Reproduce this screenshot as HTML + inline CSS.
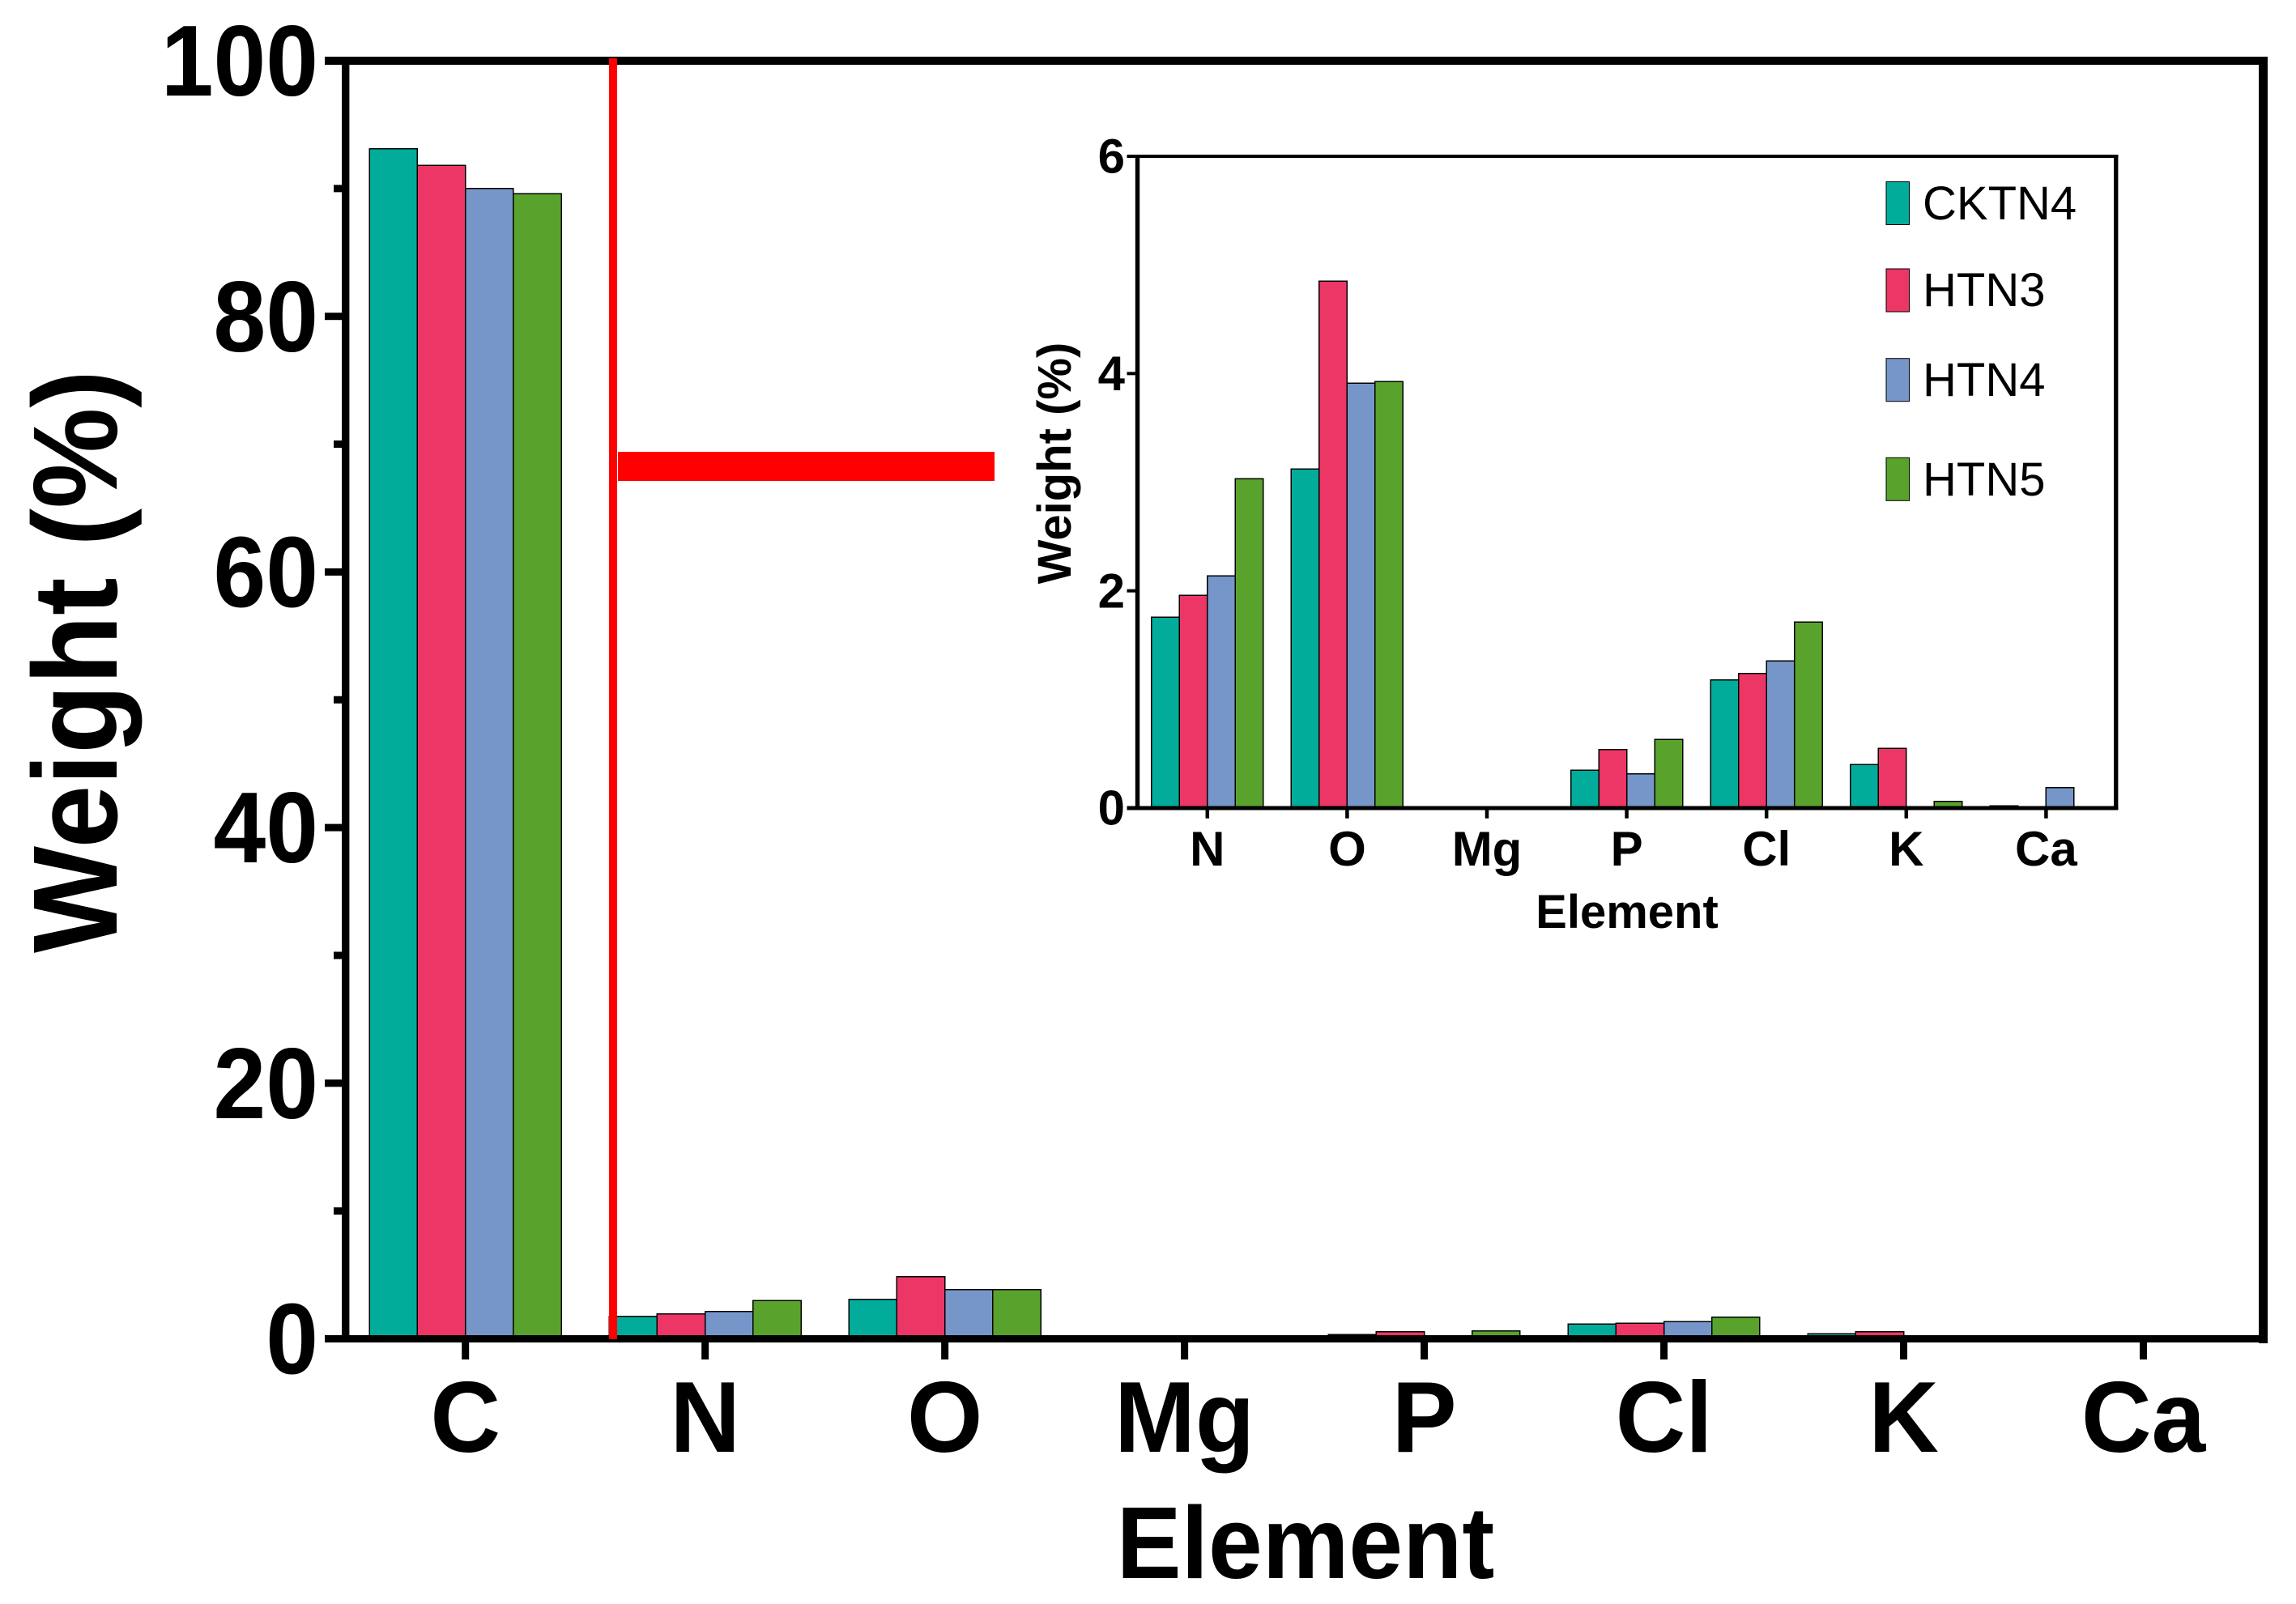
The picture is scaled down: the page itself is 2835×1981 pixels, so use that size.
<!DOCTYPE html>
<html lang="en">
<head>
<meta charset="utf-8">
<title>Element weight percent bar chart</title>
<style>
html,body{margin:0;padding:0;background:#fff;}
svg{display:block;}
text{font-family:"Liberation Sans",Arial,sans-serif;fill:#000;}
.bold{font-weight:700;}
</style>
</head>
<body>
<svg id="chart" xmlns="http://www.w3.org/2000/svg" width="2835" height="1981" viewBox="0 0 2835 1981">
  <rect x="0" y="0" width="2835" height="1981" fill="#ffffff"/>
  <g id="main-plot"></g>
  <rect x="752" y="72" width="10" height="1582" fill="#ff0000"/>
  <rect x="763" y="558" width="465" height="36" fill="#ff0000"/>
  <g id="inset-plot"></g>

  <text class="bold" font-size="138.5" text-anchor="middle" transform="translate(144,817) rotate(-90) scale(1.01,1.07)">Weight (%)</text>
  <text class="bold" font-size="120" text-anchor="middle" transform="translate(1612,1949) scale(1,1.05)">Element</text>
  <text class="bold" font-size="58" text-anchor="middle" transform="translate(1322,572) rotate(-90)">Weight (%)</text>
  <text class="bold" font-size="58" text-anchor="middle" x="2009" y="1146">Element</text>

  <g>
    <g>
      <rect x="2329" y="224.5" width="28.5" height="53" fill="#02ac9b" stroke="#000" stroke-width="1"/>
      <text font-size="58" x="2374" y="271">CKTN4</text>
    </g>
    <g>
      <rect x="2329" y="332" width="28.5" height="53" fill="#ec3665" stroke="#000" stroke-width="1"/>
      <text font-size="58" x="2374" y="378">HTN3</text>
    </g>
    <g>
      <rect x="2329" y="442.7" width="28.5" height="53" fill="#7696c9" stroke="#000" stroke-width="1"/>
      <text font-size="58" x="2374" y="489">HTN4</text>
    </g>
    <g>
      <rect x="2329" y="565.3" width="28.5" height="53" fill="#59a32d" stroke="#000" stroke-width="1"/>
      <text font-size="58" x="2374" y="612">HTN5</text>
    </g>
  </g>
</svg>

<script>
const seriesNames = ["CKTN4", "HTN3", "HTN4", "HTN5"];
const seriesColors = ["#02ac9b", "#ec3665", "#7696c9", "#59a32d"];

const mainCategories = ["C", "N", "O", "Mg", "P", "Cl", "K", "Ca"];
const mainCKTN4 = [93.1, 1.75, 3.1, 0, 0.33, 1.17, 0.4, 0];
const mainHTN3 = [91.8, 1.95, 4.85, 0, 0.55, 1.23, 0.55, 0];
const mainHTN4 = [90.0, 2.13, 3.85, 0, 0.1, 1.35, 0, 0];
const mainHTN5 = [89.6, 2.98, 3.85, 0, 0.62, 1.69, 0.05, 0];
const mainYTicks = [0, 20, 40, 60, 80, 100];
const mainYMinorTicks = [10, 30, 50, 70, 90];

const insetCategories = ["N", "O", "Mg", "P", "Cl", "K", "Ca"];
const insetCKTN4 = [1.757, 3.12, 0, 0.35, 1.18, 0.4, 0.02];
const insetHTN3 = [1.957, 4.85, 0, 0.54, 1.24, 0.55, 0];
const insetHTN4 = [2.137, 3.91, 0, 0.315, 1.354, 0, 0.19];
const insetHTN5 = [3.03, 3.925, 0, 0.63, 1.713, 0.06, 0];
const insetYTicks = [0, 2, 4, 6];

const SVG_NS = "http://www.w3.org/2000/svg";

function make(parent, tag, attrs) {
  const el = document.createElementNS(SVG_NS, tag);
  for (const key in attrs) el.setAttribute(key, attrs[key]);
  parent.appendChild(el);
  return el;
}

function drawChart(cfg) {
  const g = document.getElementById(cfg.id);
  const xBand = (cfg.right - cfg.left) / cfg.categories.length;
  const xCenter = i => cfg.left + xBand * (i + 0.5);
  const yPos = v => cfg.bottom - (v / cfg.yMax) * (cfg.bottom - cfg.top);
  const barW = xBand / 5;

  cfg.series.forEach((values, s) => {
    values.forEach((v, i) => {
      if (v <= 0) return;
      const x = xCenter(i) + (s - 2) * barW;
      const bar = make(g, "rect", {
        x: x, y: yPos(v), width: barW, height: cfg.bottom - yPos(v),
        fill: seriesColors[s], stroke: "#000", "stroke-width": 1.5,
        "shape-rendering": "crispEdges"
      });
      
      
    });
  });

  const axis = (name, x, y, w, h) => {
    const r = make(g, "rect", {x: x, y: y, width: w, height: h, fill: "#000"});
    
    
  };

  axis("top-axis-line", cfg.tickLeft, cfg.top - cfg.hw / 2, cfg.right + cfg.rw / 2 - cfg.tickLeft, cfg.hw);
  axis("left-axis-line", cfg.left - cfg.vw / 2, cfg.top, cfg.vw, cfg.bottom - cfg.top);
  axis("right-axis-line", cfg.right - cfg.rw / 2, cfg.top - cfg.hw / 2, cfg.rw, cfg.bottom - cfg.top + cfg.hw / 2 + cfg.bw / 2 + cfg.rightExtra);
  axis("bottom-axis-line", cfg.tickLeft, cfg.bottom - cfg.bw / 2, cfg.right + cfg.rw / 2 - cfg.tickLeft, cfg.bw);

  cfg.yTicks.forEach(v => {
    axis("y-tick-" + v, cfg.tickLeft, yPos(v) - cfg.tickH / 2, cfg.left - cfg.tickLeft, cfg.tickH);
    const baseline = yPos(v) + cfg.fontSize * 0.345 * cfg.labelScaleY;
    const t = make(g, "text", {
      transform: "translate(" + cfg.yLabelX + "," + baseline + ") scale(" + cfg.yLabelScaleX + "," + cfg.labelScaleY + ")",
      "text-anchor": "end",
      "font-size": cfg.fontSize, class: "bold"
    });
    t.textContent = String(v);
    
    
  });

  cfg.yMinor.forEach(v => {
    axis("y-minor-tick-" + v, cfg.minorLeft, yPos(v) - cfg.tickH / 2, cfg.left - cfg.minorLeft, cfg.tickH);
  });

  cfg.categories.forEach((c, i) => {
    axis("x-tick-" + c.toLowerCase(), xCenter(i) - cfg.tickW / 2, cfg.bottom, cfg.tickW, cfg.tickBottom - cfg.bottom);
    const t = make(g, "text", {
      transform: "translate(" + xCenter(i) + "," + cfg.xLabelY + ") scale(1," + cfg.labelScaleY + ")",
      "text-anchor": "middle",
      "font-size": cfg.fontSize, class: "bold"
    });
    t.textContent = c;
    
    
  });
}

drawChart({
  id: "main-plot",
  categories: mainCategories,
  series: [mainCKTN4, mainHTN3, mainHTN4, mainHTN5],
  yMax: 100, yTicks: mainYTicks, yMinor: mainYMinorTicks,
  left: 426.7, right: 2794.5, top: 75, bottom: 1653.5,
  hw: 10, bw: 9, vw: 9.4, rw: 11, rightExtra: 1,
  tickLeft: 401, minorLeft: 412, tickH: 9, tickW: 9, tickBottom: 1679,
  fontSize: 120, labelScaleY: 1.04, yLabelScaleX: 0.97, yLabelX: 393, xLabelY: 1793
});

drawChart({
  id: "inset-plot",
  categories: insetCategories,
  series: [insetCKTN4, insetHTN3, insetHTN4, insetHTN5],
  yMax: 6, yTicks: insetYTicks, yMinor: [],
  left: 1404.5, right: 2612.7, top: 193, bottom: 998,
  hw: 4, bw: 5, vw: 5.4, rw: 5.4, rightExtra: 0,
  tickLeft: 1391.5, minorLeft: 1391.5, tickH: 4, tickW: 4.5, tickBottom: 1010.7,
  fontSize: 60, labelScaleY: 1, yLabelScaleX: 1, yLabelX: 1389, xLabelY: 1069
});
</script>
</body>
</html>
